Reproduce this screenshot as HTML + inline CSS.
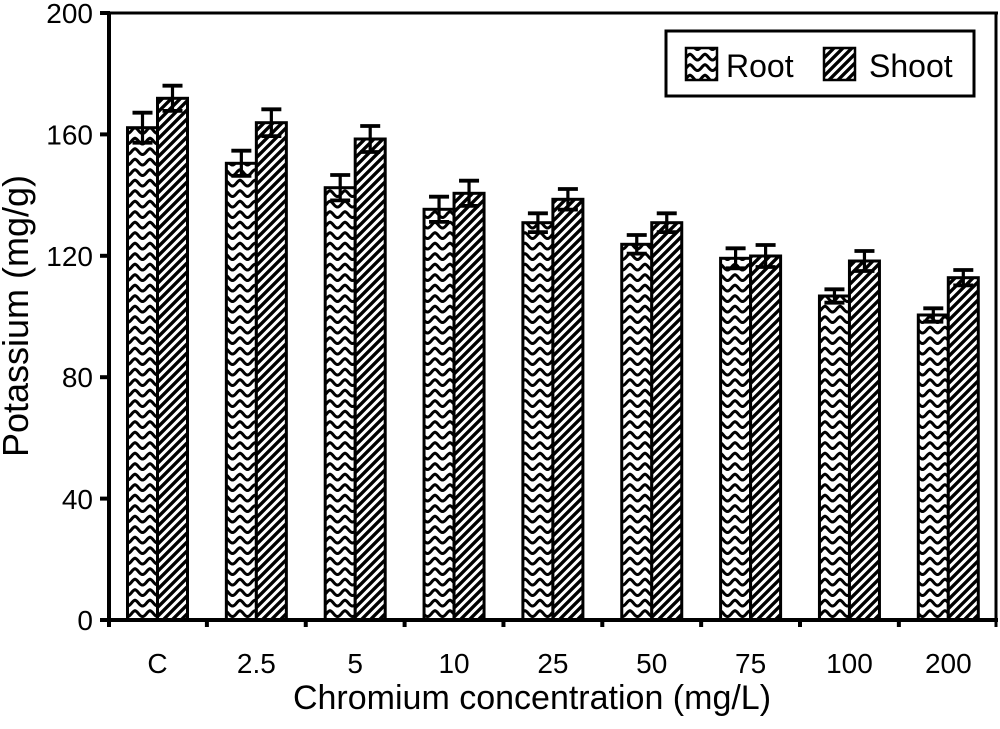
<!DOCTYPE html>
<html>
<head>
<meta charset="utf-8">
<style>
html,body{margin:0;padding:0;background:#fff;}
svg{display:block;}
text{font-family:"Liberation Sans",Arial,sans-serif;fill:#000;}
</style>
</head>
<body>
<svg width="1000" height="729" viewBox="0 0 1000 729" xmlns="http://www.w3.org/2000/svg">
<defs>
  <pattern id="shoot" patternUnits="userSpaceOnUse" width="9" height="9">
    <rect width="9" height="9" fill="#fff"/>
    <path d="M-2,11 L11,-2 M-2,2 L2,-2 M7,11 L11,7" stroke="#000" stroke-width="3.4"/>
  </pattern>
  <pattern id="root" patternUnits="userSpaceOnUse" width="15" height="10.5" x="0" y="0">
    <rect width="15" height="10.5" fill="#fff"/>
    <path d="M-1,1.5 C3,1.5 4,7.5 7.5,7.5 C11,7.5 12,1.5 16,1.5" stroke="#000" stroke-width="3" fill="none"/>
  </pattern>
</defs>

<!-- frame -->
<line x1="102" y1="13" x2="998" y2="13" stroke="#000" stroke-width="3"/>
<line x1="996" y1="12" x2="996" y2="627" stroke="#000" stroke-width="3"/>

<!-- bars -->
<g stroke="#000" stroke-width="3">
  <rect x="127.5" y="127.7" width="30" height="492.3" fill="url(#root)"/>
  <rect x="157.5" y="98.3" width="30" height="521.7" fill="url(#shoot)"/>
  <rect x="226.35" y="163.3" width="30" height="456.7" fill="url(#root)"/>
  <rect x="256.35" y="122.7" width="30" height="497.3" fill="url(#shoot)"/>
  <rect x="325.2" y="187.7" width="30" height="432.3" fill="url(#root)"/>
  <rect x="355.2" y="139" width="30" height="481" fill="url(#shoot)"/>
  <rect x="424.05" y="209.3" width="30" height="410.7" fill="url(#root)"/>
  <rect x="454.05" y="193.3" width="30" height="426.7" fill="url(#shoot)"/>
  <rect x="522.9" y="222.7" width="30" height="397.3" fill="url(#root)"/>
  <rect x="552.9" y="199.3" width="30" height="420.7" fill="url(#shoot)"/>
  <rect x="621.75" y="244.3" width="30" height="375.7" fill="url(#root)"/>
  <rect x="651.75" y="222.7" width="30" height="397.3" fill="url(#shoot)"/>
  <rect x="720.6" y="258.3" width="30" height="361.7" fill="url(#root)"/>
  <rect x="750.6" y="256" width="30" height="364" fill="url(#shoot)"/>
  <rect x="819.45" y="296" width="30" height="324" fill="url(#root)"/>
  <rect x="849.45" y="261" width="30" height="359" fill="url(#shoot)"/>
  <rect x="918.3" y="315" width="30" height="305" fill="url(#root)"/>
  <rect x="948.3" y="277.7" width="30" height="342.3" fill="url(#shoot)"/>
</g>

<!-- error bars -->
<g stroke="#000" fill="none">
  <g stroke-width="3.2">
    <line x1="142.5" y1="112.7" x2="142.5" y2="142.7"/>
    <line x1="172.5" y1="85.7" x2="172.5" y2="110.9"/>
    <line x1="241.35" y1="150.7" x2="241.35" y2="175.9"/>
    <line x1="271.35" y1="109.3" x2="271.35" y2="136.1"/>
    <line x1="340.2" y1="175" x2="340.2" y2="200.4"/>
    <line x1="370.2" y1="126" x2="370.2" y2="152"/>
    <line x1="439.05" y1="196.7" x2="439.05" y2="221.9"/>
    <line x1="469.05" y1="180.7" x2="469.05" y2="205.9"/>
    <line x1="537.9" y1="213.3" x2="537.9" y2="232.1"/>
    <line x1="567.9" y1="189" x2="567.9" y2="209.6"/>
    <line x1="636.75" y1="235" x2="636.75" y2="253.6"/>
    <line x1="666.75" y1="213.3" x2="666.75" y2="232.1"/>
    <line x1="735.6" y1="248.3" x2="735.6" y2="268.3"/>
    <line x1="765.6" y1="245" x2="765.6" y2="267"/>
    <line x1="834.45" y1="289.3" x2="834.45" y2="302.7"/>
    <line x1="864.45" y1="251" x2="864.45" y2="271"/>
    <line x1="933.3" y1="308.3" x2="933.3" y2="321.7"/>
    <line x1="963.3" y1="270" x2="963.3" y2="285.4"/>
  </g>
  <g stroke-width="3.8">
    <path d="M132.5,112.7h20 M132.5,142.7h20 M162.5,85.7h20 M162.5,110.9h20"/>
    <path d="M231.35,150.7h20 M231.35,175.9h20 M261.35,109.3h20 M261.35,136.1h20"/>
    <path d="M330.2,175h20 M330.2,200.4h20 M360.2,126h20 M360.2,152h20"/>
    <path d="M429.05,196.7h20 M429.05,221.9h20 M459.05,180.7h20 M459.05,205.9h20"/>
    <path d="M527.9,213.3h20 M527.9,232.1h20 M557.9,189h20 M557.9,209.6h20"/>
    <path d="M626.75,235h20 M626.75,253.6h20 M656.75,213.3h20 M656.75,232.1h20"/>
    <path d="M725.6,248.3h20 M725.6,268.3h20 M755.6,245h20 M755.6,267h20"/>
    <path d="M824.45,289.3h20 M824.45,302.7h20 M854.45,251h20 M854.45,271h20"/>
    <path d="M923.3,308.3h20 M923.3,321.7h20 M953.3,270h20 M953.3,285.4h20"/>
  </g>
</g>

<!-- axes -->
<line x1="109" y1="12" x2="109" y2="622" stroke="#000" stroke-width="4"/>
<line x1="101" y1="620" x2="998" y2="620" stroke="#000" stroke-width="4"/>

<!-- y ticks -->
<g stroke="#000" stroke-width="4">
  <line x1="100" y1="13" x2="110" y2="13"/>
  <line x1="100" y1="134.4" x2="110" y2="134.4"/>
  <line x1="100" y1="255.8" x2="110" y2="255.8"/>
  <line x1="100" y1="377.2" x2="110" y2="377.2"/>
  <line x1="100" y1="498.6" x2="110" y2="498.6"/>
  <line x1="100" y1="620" x2="110" y2="620"/>
</g>
<!-- x ticks -->
<g stroke="#000" stroke-width="4">
  <line x1="109" y1="620" x2="109" y2="627"/>
  <line x1="206.9" y1="620" x2="206.9" y2="627"/>
  <line x1="305.75" y1="620" x2="305.75" y2="627"/>
  <line x1="404.6" y1="620" x2="404.6" y2="627"/>
  <line x1="503.45" y1="620" x2="503.45" y2="627"/>
  <line x1="602.3" y1="620" x2="602.3" y2="627"/>
  <line x1="701.15" y1="620" x2="701.15" y2="627"/>
  <line x1="800" y1="620" x2="800" y2="627"/>
  <line x1="898.85" y1="620" x2="898.85" y2="627"/>
</g>

<!-- y tick labels -->
<g font-size="28" text-anchor="end">
  <text x="93" y="23">200</text>
  <text x="93" y="144.5">160</text>
  <text x="93" y="266">120</text>
  <text x="93" y="387">80</text>
  <text x="93" y="509">40</text>
  <text x="93" y="630">0</text>
</g>

<!-- x tick labels -->
<g font-size="28" text-anchor="middle">
  <text x="157.5" y="673">C</text>
  <text x="256.35" y="673">2.5</text>
  <text x="355.2" y="673">5</text>
  <text x="454.05" y="673">10</text>
  <text x="552.9" y="673">25</text>
  <text x="651.75" y="673">50</text>
  <text x="750.6" y="673">75</text>
  <text x="849.45" y="673">100</text>
  <text x="948.3" y="673">200</text>
</g>

<!-- axis titles -->
<text x="532" y="709" font-size="34" text-anchor="middle">Chromium concentration (mg/L)</text>
<text transform="translate(28,316) rotate(-90)" font-size="36" text-anchor="middle">Potassium (mg/g)</text>

<!-- legend -->
<rect x="666" y="31" width="308" height="65" fill="#fff" stroke="#000" stroke-width="3"/>
<rect x="686" y="48" width="31" height="32" fill="url(#root)" stroke="#000" stroke-width="2.5"/>
<text x="726" y="77" font-size="32">Root</text>
<rect x="824" y="48" width="31" height="32" fill="url(#shoot)" stroke="#000" stroke-width="2.5"/>
<text x="869" y="77" font-size="32">Shoot</text>
</svg>
</body>
</html>
